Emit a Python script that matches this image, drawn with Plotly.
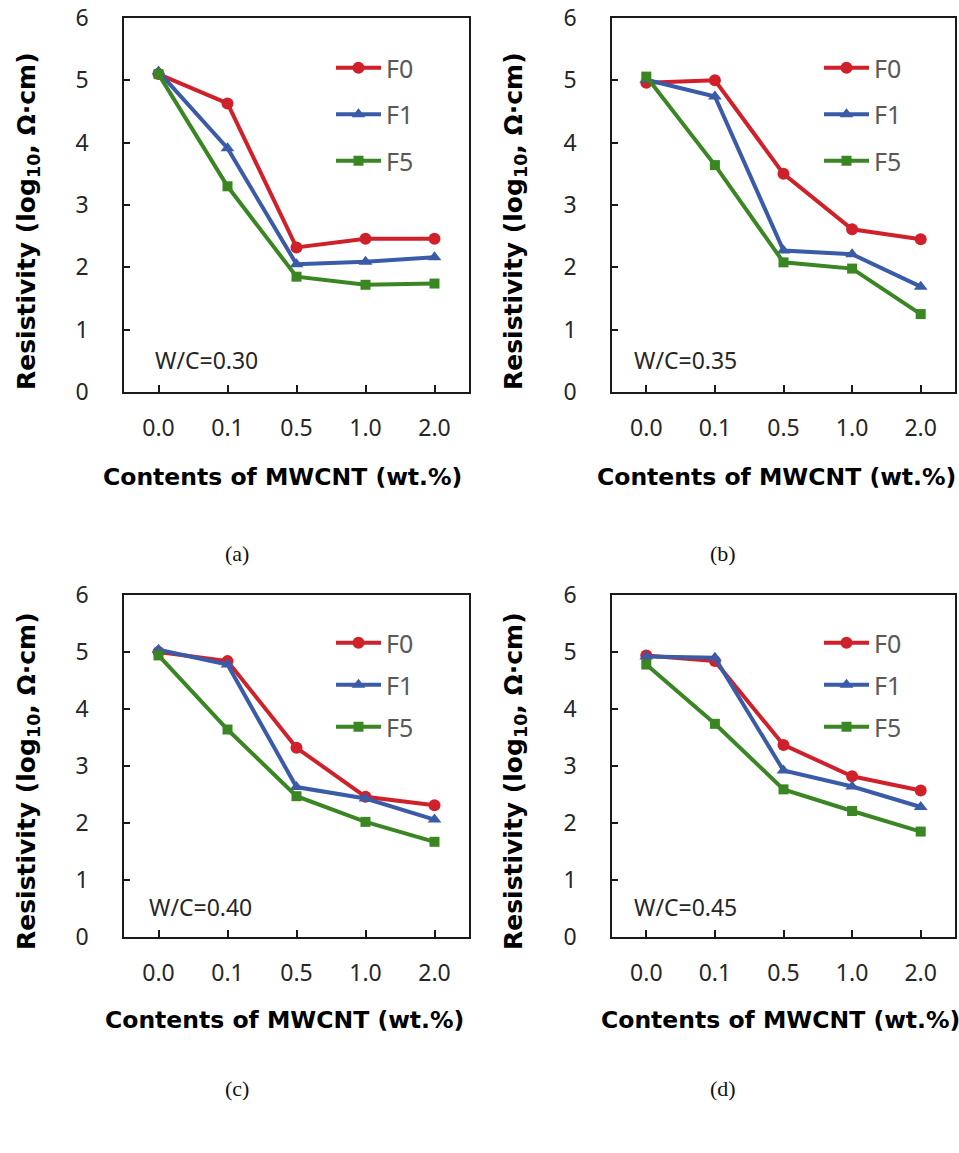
import plotly.graph_objects as go

W, H = 959, 1153

categories = ["0.0", "0.1", "0.5", "1.0", "2.0"]
series_names = ["F0", "F1", "F5"]

# panel (a) W/C=0.30
a_F0 = [5.10, 4.63, 2.32, 2.46, 2.46]
a_F1 = [5.14, 3.91, 2.05, 2.09, 2.16]
a_F5 = [5.10, 3.30, 1.85, 1.72, 1.74]
# panel (b) W/C=0.35
b_F0 = [4.96, 5.00, 3.50, 2.61, 2.45]
b_F1 = [5.01, 4.74, 2.27, 2.21, 1.69]
b_F5 = [5.06, 3.64, 2.08, 1.98, 1.25]
# panel (c) W/C=0.40
c_F0 = [5.00, 4.84, 3.32, 2.46, 2.31]
c_F1 = [5.04, 4.78, 2.63, 2.43, 2.06]
c_F5 = [4.94, 3.64, 2.47, 2.02, 1.67]
# panel (d) W/C=0.45
d_F0 = [4.94, 4.84, 3.37, 2.82, 2.57]
d_F1 = [4.92, 4.90, 2.92, 2.64, 2.28]
d_F5 = [4.78, 3.74, 2.59, 2.21, 1.85]

wc_labels = ["W/C=0.30", "W/C=0.35", "W/C=0.40", "W/C=0.45"]
panel_labels = ["(a)", "(b)", "(c)", "(d)"]
x_title = "Contents of MWCNT (wt.%)"
y_title = "Resistivity (log<sub>10</sub>, Ω·cm)"

colors = {"F0": "#D0212B", "F1": "#3A5BA8", "F5": "#3A8623"}
symbols = {"F0": "circle", "F1": "triangle-up", "F5": "square"}
msizes = {"F0": 12, "F1": 12, "F5": 10}

panels = [
    dict(data=[a_F0, a_F1, a_F5], box=(124, 469, 18, 392), ytl=(28, 221), xtl=(282, 477),
         wc=(153, 360), lab=(237, 553), leg=(331, 45), gap=11),
    dict(data=[b_F0, b_F1, b_F5], box=(612, 955, 18, 392), ytl=(515, 221), xtl=(776, 477),
         wc=(632, 360), lab=(723, 553), leg=(819, 45), gap=11),
    dict(data=[c_F0, c_F1, c_F5], box=(124, 469, 595, 937), ytl=(28, 781), xtl=(284, 1020),
         wc=(147, 907), lab=(237, 1088), leg=(331, 620), gap=6.5),
    dict(data=[d_F0, d_F1, d_F5], box=(612, 955, 595, 937), ytl=(515, 781), xtl=(780, 1020),
         wc=(632, 907), lab=(723, 1088), leg=(819, 620), gap=6.5),
]

def px(x):
    return x / W

def py(y):
    return 1 - y / H

fig = go.Figure()
layout = dict(width=W, height=H, margin=dict(l=0, r=0, t=0, b=0, autoexpand=False),
              paper_bgcolor="white", plot_bgcolor="white", showlegend=True)
annotations = []

sans = "Noto Sans, DejaVu Sans, sans-serif"
tick_font = dict(family=sans, size=23, color="#262626")
bold_family = "DejaVu Sans, Liberation Sans, sans-serif"
xtitle_font = dict(family=bold_family, size=23.5, color="#000000", weight="bold")
ytitle_font = dict(family=bold_family, size=25, color="#000000", weight="bold")

for i, p in enumerate(panels):
    k = "" if i == 0 else str(i + 1)
    xa, ya = "x" + k, "y" + k
    leg = "legend" + k
    for name, vals in zip(series_names, p["data"]):
        fig.add_trace(go.Scatter(
            x=categories, y=vals, name=name, mode="lines+markers",
            xaxis=xa, yaxis=ya, legend=leg, legendgroup=name + k,
            line=dict(color=colors[name], width=4),
            marker=dict(symbol=symbols[name], size=msizes[name], color=colors[name]),
            showlegend=True,
        ))
    x0, x1, y0, y1 = p["box"]
    axis_common = dict(showline=True, mirror=True, linecolor="#1a1a1a", linewidth=1.5,
                       ticks="inside", tickcolor="#1a1a1a", tickwidth=1.5,
                       showgrid=False, zeroline=False, tickfont=tick_font,
                       ticklabeloverflow="allow")
    layout["xaxis" + k] = dict(domain=[px(x0), px(x1)], anchor=ya, type="category",
                               range=[-0.5, 4.5], ticklen=7, ticklabelstandoff=15,
                               categoryorder="array", categoryarray=categories,
                               **axis_common)
    layout["yaxis" + k] = dict(domain=[py(y1), py(y0)], anchor=xa, range=[0, 6],
                               tickvals=[0, 1, 2, 3, 4, 5, 6], ticklen=6,
                               ticklabelstandoff=29, **axis_common)
    lx, ly = p["leg"]
    layout[leg] = dict(x=px(lx), y=py(ly), xanchor="left", yanchor="top",
                       bgcolor="rgba(0,0,0,0)", borderwidth=0,
                       font=dict(family=sans, size=25, color="#595959"),
                       tracegroupgap=p["gap"], itemwidth=45)
    annotations.append(dict(text=y_title, x=px(p["ytl"][0]), y=py(p["ytl"][1]),
                            xref="paper", yref="paper", showarrow=False, textangle=-90,
                            xanchor="center", yanchor="middle", font=ytitle_font))
    annotations.append(dict(text=x_title, x=px(p["xtl"][0]), y=py(p["xtl"][1]),
                            xref="paper", yref="paper", showarrow=False,
                            xanchor="center", yanchor="middle", font=xtitle_font))
    annotations.append(dict(text=wc_labels[i], x=px(p["wc"][0]), y=py(p["wc"][1]),
                            xref="paper", yref="paper", showarrow=False,
                            xanchor="left", yanchor="middle",
                            font=dict(family=sans, size=23, color="#262626")))
    annotations.append(dict(text=panel_labels[i], x=px(p["lab"][0]), y=py(p["lab"][1]),
                            xref="paper", yref="paper", showarrow=False,
                            xanchor="center", yanchor="middle",
                            font=dict(family="Liberation Serif, serif", size=22, color="#111111")))

layout["annotations"] = annotations
fig.update_layout(**layout)
fig.write_html("out.html")
